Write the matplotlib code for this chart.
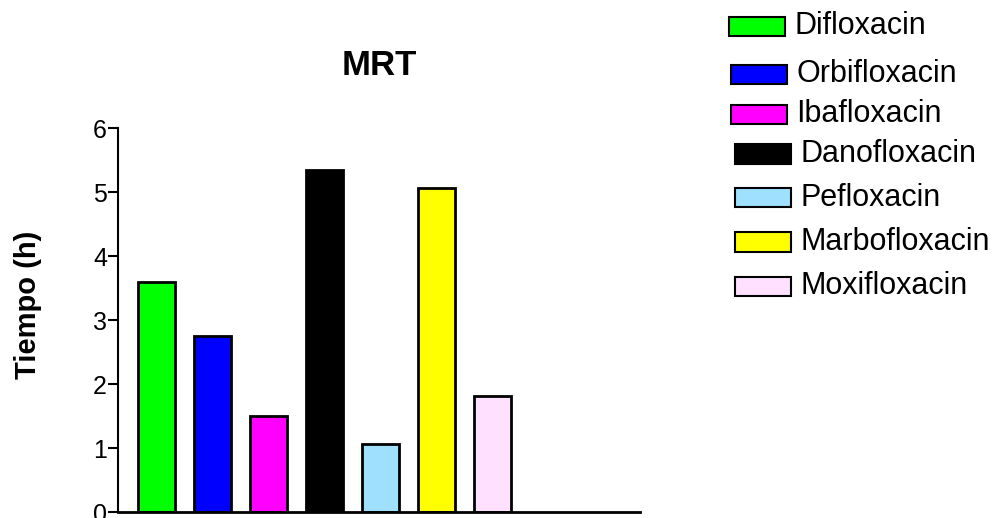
import numpy as np
import matplotlib.pyplot as plt
from matplotlib.patches import Rectangle

# MRT per fluoroquinolone
drugs = ["Difloxacin", "Orbifloxacin", "Ibafloxacin", "Danofloxacin",
         "Pefloxacin", "Marbofloxacin", "Moxifloxacin"]
mrt = [3.59, 2.75, 1.50, 5.34, 1.07, 5.07, 1.81]
colors = ["#00ff00", "#0000ff", "#ff00ff", "#000000",
          "#a0e0ff", "#ffff00", "#ffe0ff"]

plt.rcParams['font.family'] = ['Liberation Sans', 'DejaVu Sans']

fig = plt.figure(figsize=(9.97, 5.18), dpi=100)
ax = fig.add_axes([118 / 997, 6 / 518, 522 / 997, 384 / 518])

x = np.arange(len(drugs))
ax.bar(x, mrt, width=0.66, color=colors, edgecolor="black", linewidth=2)

ax.set_xlim(-0.69, 8.63)
ax.set_ylim(0, 6)
ax.set_yticks(range(7))
ax.set_xticks([])
ax.tick_params(axis="y", direction="out", length=7, width=1.5, labelsize=18, pad=1)
for s in ["top", "right"]:
    ax.spines[s].set_visible(False)
ax.spines["left"].set_linewidth(1.5)
ax.spines["bottom"].set_linewidth(2)
ax.set_title("MRT", fontsize=25, fontweight="bold", pad=38)
ax.set_ylabel("Tiempo (h)", fontsize=21, fontweight="bold")
ax.yaxis.set_label_coords(-0.145, 0.54)

# hand-placed legend, pixel rows from the top of the figure
W, H = 997, 518
row_y = [26.5, 74.5, 114.5, 154, 198, 242, 286]
box_x = [729, 731, 731, 735, 735, 735, 735]
for name, c, yc, bx in zip(drugs, colors, row_y, box_x):
    fig.add_artist(Rectangle((bx / W, 1 - (yc + 9.5) / H), 56 / W, 19 / H,
                             transform=fig.transFigure, facecolor=c,
                             edgecolor="black", linewidth=1.5))
    fig.text((bx + 65) / W, 1 - yc / H, name, fontsize=22, va="center", ha="left")

fig.savefig("out.png", dpi=100)
